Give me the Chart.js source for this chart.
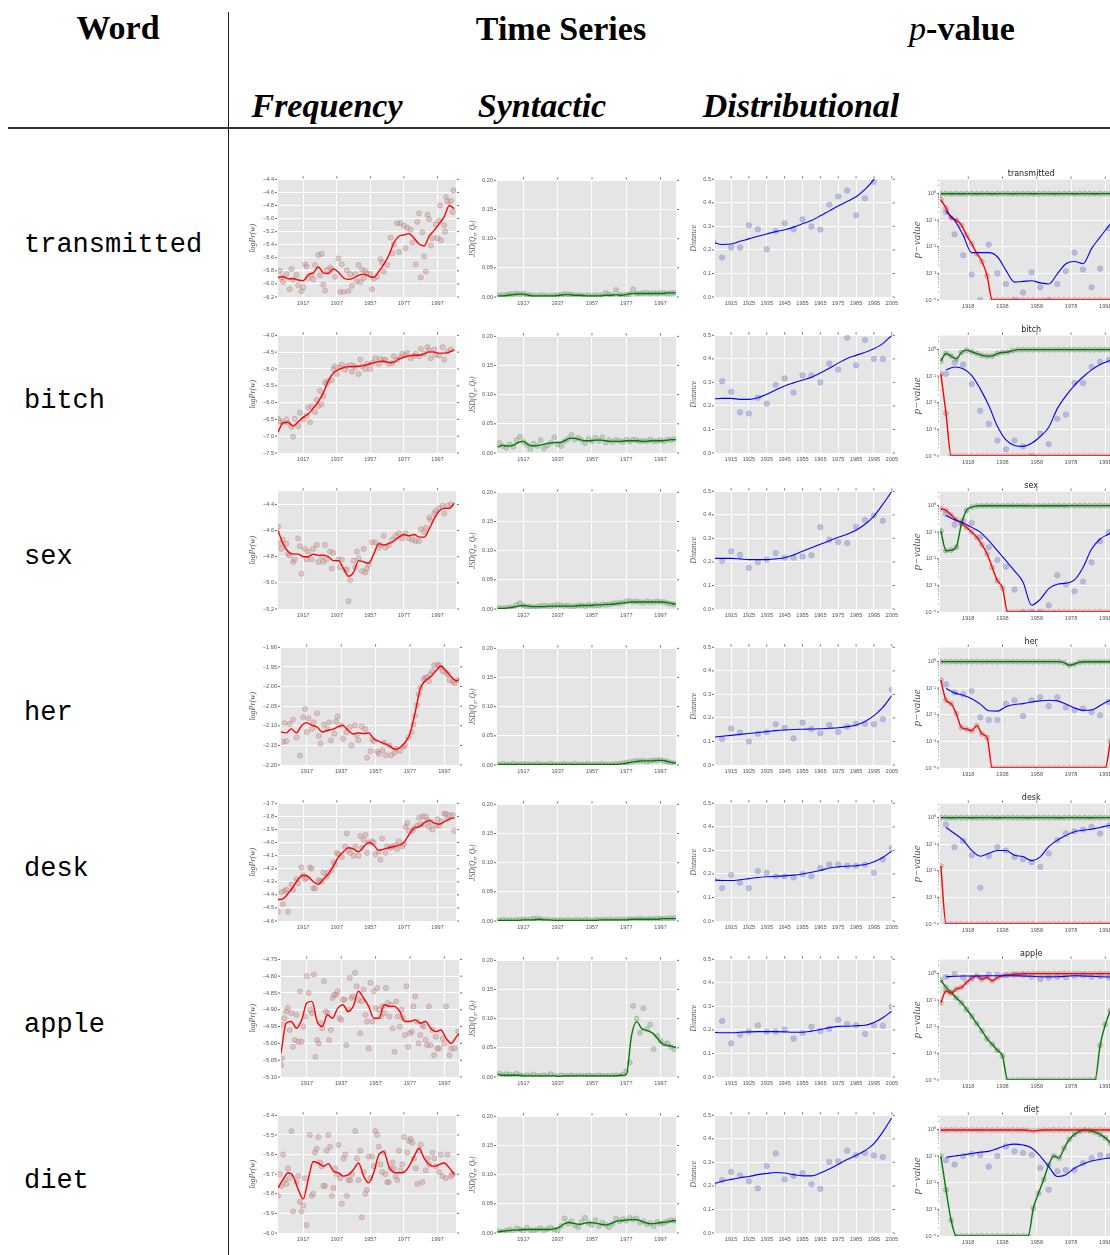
<!DOCTYPE html>
<html>
<head>
<meta charset="utf-8">
<script src="https://cdn.jsdelivr.net/npm/chart.js@4.4.1/dist/chart.umd.min.js"></script>
<style>
  html, body { margin: 0; padding: 0; background: #fff; }
  body { width: 1110px; height: 1255px; position: relative; overflow: hidden; }
  .hd { position: absolute; transform: translate(-50%, -50%); font: bold 34px 'Liberation Serif', serif; white-space: nowrap; color: #000; }
  .hd.it { font-style: italic; }
  .word { position: absolute; left: 24px; transform: translateY(-50%); font: 27px 'Liberation Mono', monospace; color: #000; }
  .rule-h { position: absolute; left: 8px; top: 127px; width: 1102px; height: 2px; background: #333; }
  .rule-v { position: absolute; left: 228px; top: 12px; width: 1px; height: 1243px; background: #222; }
</style>
</head>
<body>
<div class="hd" style="left:118px;top:28px">Word</div>
<div class="hd" style="left:561px;top:29px">Time Series</div>
<div class="hd" style="left:962px;top:29px"><i style="font-weight:normal">p</i>-value</div>
<div class="hd it" style="left:327px;top:106px">Frequency</div>
<div class="hd it" style="left:542px;top:106px">Syntactic</div>
<div class="hd it" style="left:801px;top:106px">Distributional</div>
<div class="rule-h"></div>
<div class="rule-v"></div>

<script>
// ---- shared axes ----
const words = ['transmitted', 'bitch', 'sex', 'her', 'desk', 'apple', 'diet'];

const freqLineYears = [1902,1905,1908,1911,1914,1917,1920,1923,1926,1929,1932,1935,1938,1941,1944,1947,1950,1953,
  1956,1959,1962,1965,1968,1971,1974,1977,1980,1983,1986,1989,1992,1995,1998,2001,2004,2007];
const synPtYears = [1903,1905,1907,1909,1911,1913,1915,1917,1919,1921,1923,1925,1927,1929,1931,1933,1935,1937,1939,
  1941,1943,1945,1947,1949,1951,1953,1955,1957,1959,1961,1963,1965,1967,1969,1971,1973,1975,1977,1979,1981,1983,
  1985,1987,1989,1991,1993,1995,1997,1999,2001,2003,2005];
const distYears = [1905,1910,1915,1920,1925,1930,1935,1940,1945,1950,1955,1960,1965,1970,1975,1980,1985,1990,1995,2000,2005];

const freqXTicks = [1917,1937,1957,1977,1997];
const distXTicks = [1915,1925,1935,1945,1955,1965,1975,1985,1995,2005];
const pXTicks = [1918,1938,1958,1978,1998];
const synYTicks = [0,0.05,0.10,0.15,0.20];
const distYTicks = [0,0.1,0.2,0.3,0.4,0.5];
const pYTicks = [1e-4,1e-3,1e-2,1e-1,1];

// ---- frequency: y ticks, smoothed line, yearly points ----
const transmittedFreqTicks = [-6.2,-6.0,-5.8,-5.6,-5.4,-5.2,-5.0,-4.8,-4.6,-4.4];
const bitchFreqTicks = [-7.5,-7.0,-6.5,-6.0,-5.5,-5.0,-4.5,-4.0];
const sexFreqTicks = [-5.2,-5.0,-4.8,-4.6,-4.4];
const herFreqTicks = [-2.20,-2.15,-2.10,-2.05,-2.00,-1.95,-1.90];
const deskFreqTicks = [-4.6,-4.5,-4.4,-4.3,-4.2,-4.1,-4.0,-3.9,-3.8,-3.7];
const appleFreqTicks = [-5.10,-5.05,-5.00,-4.95,-4.90,-4.85,-4.80,-4.75];
const dietFreqTicks = [-6.0,-5.9,-5.8,-5.7,-5.6,-5.5,-5.4];

const transmittedFreqLine = [-5.90,-5.89,-5.92,-5.92,-5.94,-5.95,-5.86,-5.83,-5.74,-5.83,-5.84,-5.77,-5.82,-5.91,-5.93,
  -5.91,-5.87,-5.85,-5.88,-5.90,-5.81,-5.70,-5.56,-5.37,-5.27,-5.25,-5.23,-5.30,-5.39,-5.42,-5.27,-5.18,-5.08,-4.97,-4.80,-4.85];
const bitchFreqLine = [-6.88,-6.60,-6.59,-6.70,-6.57,-6.44,-6.34,-6.17,-5.97,-5.71,-5.35,-5.12,-5.02,-4.96,-4.93,-4.93,
  -4.92,-4.90,-4.86,-4.81,-4.78,-4.77,-4.81,-4.80,-4.70,-4.65,-4.61,-4.59,-4.59,-4.55,-4.49,-4.50,-4.53,-4.53,-4.50,-4.43];
const sexFreqLine = [-4.60,-4.70,-4.76,-4.78,-4.78,-4.80,-4.80,-4.78,-4.79,-4.79,-4.80,-4.83,-4.83,-4.89,-4.95,-4.92,
  -4.83,-4.84,-4.85,-4.78,-4.70,-4.71,-4.70,-4.68,-4.65,-4.63,-4.64,-4.63,-4.65,-4.65,-4.59,-4.51,-4.45,-4.43,-4.43,-4.39];
const herFreqLine = [-2.116,-2.118,-2.108,-2.118,-2.099,-2.092,-2.099,-2.103,-2.116,-2.112,-2.109,-2.103,-2.099,-2.112,
  -2.121,-2.118,-2.120,-2.118,-2.133,-2.140,-2.145,-2.151,-2.160,-2.156,-2.143,-2.120,-2.066,-2.005,-1.985,-1.975,-1.960,
  -1.948,-1.960,-1.975,-1.985,-1.978];
const deskFreqLine = [-4.436,-4.43,-4.39,-4.34,-4.28,-4.25,-4.26,-4.30,-4.32,-4.28,-4.24,-4.18,-4.11,-4.07,-4.04,-4.05,
  -4.07,-4.03,-4.00,-4.02,-4.06,-4.05,-4.04,-4.03,-4.02,-4.00,-3.94,-3.89,-3.88,-3.85,-3.83,-3.85,-3.86,-3.84,-3.82,-3.81];
const appleFreqLine = [-5.03,-4.94,-4.935,-4.955,-4.93,-4.88,-4.875,-4.935,-4.95,-4.915,-4.925,-4.895,-4.885,-4.905,
  -4.89,-4.845,-4.865,-4.89,-4.925,-4.925,-4.885,-4.89,-4.89,-4.905,-4.935,-4.935,-4.93,-4.94,-4.935,-4.955,-4.965,-4.96,
  -4.985,-5.0,-4.98,-4.965];
const dietFreqLine = [-5.77,-5.727,-5.693,-5.71,-5.777,-5.827,-5.727,-5.635,-5.643,-5.66,-5.646,-5.685,-5.693,-5.71,
  -5.702,-5.676,-5.643,-5.71,-5.744,-5.693,-5.601,-5.585,-5.66,-5.69,-5.693,-5.69,-5.66,-5.61,-5.568,-5.618,-5.651,-5.66,
  -5.651,-5.643,-5.668,-5.702];

const transmittedFreqPts = [[1903,-5.80],[1904,-5.90],[1905,-5.97],[1907,-5.85],[1909,-6.08],[1910,-5.77],[1911,-5.93],
  [1913,-5.86],[1914,-6.02],[1916,-6.11],[1917,-6.05],[1918,-5.70],[1919,-5.73],[1920,-5.91],[1922,-5.86],[1923,-5.93],
  [1924,-5.71],[1926,-5.56],[1927,-5.87],[1928,-5.54],[1929,-6.01],[1930,-6.10],[1931,-5.79],[1933,-5.75],[1934,-5.78],
  [1936,-5.89],[1938,-5.61],[1939,-6.12],[1940,-5.70],[1941,-6.12],[1943,-5.79],[1944,-6.11],[1945,-5.85],[1946,-6.03],
  [1948,-5.85],[1949,-5.96],[1950,-5.71],[1951,-5.97],[1952,-5.78],[1953,-5.91],[1954,-5.80],[1955,-5.84],[1957,-5.85],
  [1958,-6.08],[1959,-5.92],[1961,-5.89],[1963,-5.62],[1964,-5.67],[1965,-5.81],[1967,-5.71],[1969,-5.29],[1970,-5.53],
  [1971,-5.40],[1973,-5.07],[1974,-5.51],[1975,-5.07],[1977,-5.11],[1978,-5.45],[1979,-5.14],[1981,-5.17],[1982,-5.37],
  [1984,-5.70],[1985,-5.05],[1986,-4.92],[1987,-5.90],[1988,-5.21],[1989,-5.58],[1990,-5.81],[1991,-4.94],[1992,-5.01],
  [1993,-5.41],[1994,-5.30],[1996,-5.09],[1997,-5.30],[1998,-5.03],[1998.5,-4.80],[1999,-5.33],[2001,-5.10],[2001.5,-5.20],
  [2002,-4.67],[2003,-4.74],[2005,-4.73],[2006,-4.90],[2006.5,-4.57]];
const bitchFreqPts = [[1902,-6.48],[1903,-6.55],[1905,-6.58],[1907,-6.50],[1908,-6.60],[1910,-6.72],[1911,-7.02],
  [1912,-6.48],[1914,-6.70],[1915,-6.30],[1917,-6.50],[1919,-6.40],[1920,-6.15],[1921,-6.58],[1922,-6.12],[1924,-6.28],
  [1925,-5.92],[1926,-6.10],[1927,-5.65],[1928,-6.05],[1929,-5.80],[1930,-5.40],[1931,-5.45],[1932,-5.35],[1934,-5.33],
  [1935,-5.00],[1936,-4.92],[1937,-5.15],[1939,-4.95],[1940,-4.87],[1942,-5.02],[1943,-4.92],[1945,-4.88],[1946,-5.08],
  [1947,-4.90],[1948,-4.95],[1950,-5.15],[1951,-4.72],[1952,-4.92],[1954,-5.00],[1955,-4.85],[1957,-5.00],[1958,-4.82],
  [1960,-4.68],[1962,-4.85],[1963,-4.70],[1965,-4.75],[1966,-4.72],[1968,-4.85],[1970,-4.82],[1971,-4.62],[1973,-4.72],
  [1975,-4.65],[1976,-4.55],[1978,-4.58],[1979,-4.52],[1981,-4.68],[1983,-4.60],[1984,-4.55],[1986,-4.62],[1987,-4.40],
  [1989,-4.55],[1991,-4.35],[1992,-4.45],[1993,-4.68],[1995,-4.42],[1996,-4.58],[1998,-4.60],[2000,-4.35],[2001,-4.72],
  [2003,-4.48],[2005,-4.42]];
const sexFreqPts = [[1902,-4.57],[1903,-4.70],[1904,-4.74],[1905,-4.67],[1907,-4.70],[1908,-4.78],[1909,-4.79],
  [1911,-4.84],[1912,-4.82],[1914,-4.66],[1915,-4.72],[1916,-4.93],[1918,-4.74],[1919,-4.82],[1920,-4.76],[1922,-4.82],
  [1923,-4.74],[1925,-4.71],[1926,-4.84],[1928,-4.80],[1929,-4.84],[1930,-4.71],[1931,-4.82],[1933,-4.76],[1934,-4.89],
  [1935,-4.77],[1938,-4.82],[1939,-4.88],[1940,-4.82],[1942,-4.90],[1943,-4.90],[1944,-5.14],[1945,-4.98],[1947,-4.83],
  [1948,-4.88],[1949,-4.76],[1950,-4.81],[1952,-4.91],[1953,-4.74],[1954,-4.92],[1955,-4.89],[1956,-4.86],[1958,-4.69],
  [1960,-4.69],[1962,-4.73],[1963,-4.71],[1965,-4.64],[1966,-4.73],[1968,-4.71],[1970,-4.67],[1972,-4.64],[1974,-4.62],
  [1976,-4.66],[1978,-4.62],[1980,-4.66],[1982,-4.67],[1984,-4.68],[1986,-4.68],[1987,-4.59],[1989,-4.61],[1990,-4.58],
  [1992,-4.50],[1993,-4.52],[1995,-4.47],[1996,-4.45],[1998,-4.43],[2000,-4.41],[2001,-4.47],[2003,-4.41],[2005,-4.40]];
const herFreqPts = [[1903,-2.141],[1904,-2.093],[1905,-2.139],[1907,-2.095],[1909,-2.084],[1911,-2.130],[1913,-2.176],
  [1915,-2.078],[1916,-2.057],[1917,-2.116],[1918,-2.081],[1920,-2.108],[1921,-2.091],[1923,-2.068],[1924,-2.126],
  [1925,-2.145],[1927,-2.097],[1929,-2.108],[1930,-2.091],[1931,-2.137],[1933,-2.120],[1934,-2.089],[1935,-2.076],
  [1937,-2.099],[1938,-2.133],[1940,-2.116],[1942,-2.103],[1943,-2.150],[1945,-2.099],[1946,-2.124],[1947,-2.137],
  [1949,-2.102],[1951,-2.108],[1952,-2.181],[1954,-2.165],[1955,-2.135],[1956,-2.139],[1958,-2.166],[1959,-2.171],
  [1961,-2.162],[1962,-2.143],[1963,-2.175],[1965,-2.150],[1966,-2.175],[1968,-2.169],[1969,-2.158],[1971,-2.164],
  [1973,-2.154],[1974,-2.150],[1976,-2.130],[1978,-2.116],[1979,-2.097],[1980,-2.074],[1981,-2.047],[1982,-2.019],
  [1983,-2.003],[1985,-1.982],[1986,-1.977],[1987,-1.976],[1988,-1.986],[1989,-1.969],[1990,-1.961],[1991,-1.946],
  [1993,-1.944],[1994,-1.946],[1995,-1.952],[1996,-1.961],[1998,-1.965],[1999,-1.969],[2000,-1.983],[2002,-1.987],
  [2003,-1.992],[2005,-1.983]];
const deskFreqPts = [[1902,-4.53],[1904,-4.38],[1905,-4.47],[1906,-4.37],[1907,-4.36],[1908,-4.53],[1910,-4.32],
  [1911,-4.36],[1913,-4.28],[1914,-4.31],[1916,-4.19],[1917,-4.25],[1918,-4.28],[1919,-4.27],[1921,-4.19],[1922,-4.20],
  [1923,-4.35],[1924,-4.35],[1926,-4.29],[1927,-4.29],[1928,-4.30],[1929,-4.23],[1931,-4.26],[1932,-4.23],[1934,-4.21],
  [1935,-4.15],[1936,-4.17],[1937,-4.08],[1938,-4.09],[1940,-4.11],[1942,-4.03],[1943,-3.93],[1944,-4.06],[1945,-4.08],
  [1947,-4.10],[1948,-4.03],[1950,-4.10],[1951,-3.95],[1952,-4.04],[1953,-3.98],[1954,-3.94],[1955,-4.08],[1956,-4.00],
  [1958,-3.99],[1959,-4.00],[1960,-4.09],[1962,-4.07],[1963,-4.13],[1964,-3.97],[1966,-4.08],[1967,-4.03],[1969,-4.04],
  [1970,-4.03],[1972,-4.02],[1973,-4.05],[1974,-3.99],[1976,-4.03],[1977,-4.01],[1978,-3.88],[1979,-3.85],[1980,-3.91],
  [1982,-3.91],[1983,-3.89],[1985,-3.87],[1986,-3.81],[1987,-3.86],[1988,-3.80],[1989,-3.86],[1990,-3.80],[1991,-3.83],
  [1992,-3.88],[1993,-3.84],[1994,-3.90],[1996,-3.87],[1997,-3.82],[1998,-3.87],[1999,-3.84],[2001,-3.78],[2002,-3.78],
  [2003,-3.82],[2004,-3.79],[2006,-3.79],[2007,-3.91]];
const appleFreqPts = [[1902,-5.065],[1902.5,-5.045],[1903,-4.945],[1904,-4.925],[1905,-4.905],[1906,-4.895],[1907,-4.96],
  [1908,-4.91],[1909,-5.01],[1910,-4.99],[1911,-4.915],[1912,-4.995],[1913,-4.845],[1914,-4.995],[1915,-4.95],[1916,-4.92],
  [1917,-4.80],[1918,-4.85],[1919,-4.90],[1920,-4.91],[1921,-4.795],[1922,-5.04],[1923,-4.99],[1924,-5.00],[1925,-4.94],
  [1926,-4.955],[1927,-4.815],[1928,-4.905],[1929,-4.91],[1930,-4.99],[1931,-4.96],[1932,-4.865],[1933,-4.855],
  [1934,-4.855],[1935,-4.845],[1936,-4.925],[1937,-4.93],[1938,-4.87],[1939,-4.87],[1940,-5.005],[1941,-4.90],[1942,-4.805],
  [1943,-4.865],[1944,-4.86],[1945,-4.79],[1946,-4.83],[1947,-4.87],[1948,-4.97],[1949,-4.875],[1950,-4.84],[1951,-4.915],
  [1952,-4.935],[1953,-5.015],[1954,-4.82],[1955,-4.935],[1956,-4.845],[1957,-4.895],[1958,-4.835],[1959,-4.90],
  [1960,-4.92],[1961,-4.89],[1962,-4.91],[1963,-4.835],[1964,-4.88],[1965,-4.92],[1966,-4.885],[1967,-4.955],[1968,-5.025],
  [1969,-4.875],[1970,-4.92],[1971,-4.95],[1972,-4.90],[1973,-4.925],[1974,-4.975],[1975,-4.83],[1976,-5.01],[1977,-4.97],
  [1978,-4.965],[1979,-4.89],[1980,-4.86],[1981,-4.935],[1982,-5.00],[1983,-4.975],[1984,-4.945],[1985,-4.95],[1986,-4.99],
  [1987,-5.005],[1988,-4.89],[1989,-5.005],[1990,-4.96],[1991,-5.035],[1992,-4.98],[1993,-5.015],[1994,-5.015],
  [1996,-4.985],[1997,-5.00],[1998,-4.89],[2000,-5.035],[2001,-5.015],[2003,-5.015],[2005,-4.965]];
const dietFreqPts = [[1902,-5.81],[1903,-5.70],[1904,-5.76],[1905,-5.60],[1906,-5.73],[1907,-5.75],[1908,-5.67],
  [1909,-5.72],[1910,-5.48],[1911,-5.89],[1913,-5.74],[1914,-5.71],[1915,-5.84],[1916,-5.89],[1917,-5.86],[1918,-5.72],
  [1919,-5.96],[1921,-5.50],[1922,-5.81],[1923,-5.80],[1924,-5.59],[1925,-5.57],[1926,-5.51],[1927,-5.64],[1928,-5.66],
  [1929,-5.76],[1930,-5.76],[1931,-5.58],[1932,-5.50],[1933,-5.56],[1934,-5.81],[1935,-5.77],[1936,-5.67],[1937,-5.70],
  [1938,-5.55],[1939,-5.72],[1940,-5.85],[1941,-5.62],[1942,-5.60],[1943,-5.81],[1944,-5.73],[1945,-5.73],[1946,-5.70],
  [1948,-5.48],[1949,-5.62],[1950,-5.73],[1951,-5.58],[1952,-5.92],[1953,-5.69],[1954,-5.80],[1955,-5.78],[1956,-5.61],
  [1957,-5.72],[1958,-5.61],[1959,-5.66],[1960,-5.48],[1961,-5.50],[1962,-5.56],[1963,-5.65],[1964,-5.69],[1965,-5.59],
  [1966,-5.70],[1967,-5.74],[1968,-5.74],[1969,-5.67],[1970,-5.64],[1971,-5.67],[1972,-5.71],[1973,-5.73],[1974,-5.58],
  [1975,-5.68],[1976,-5.65],[1977,-5.51],[1979,-5.59],[1980,-5.53],[1981,-5.52],[1982,-5.54],[1983,-5.62],[1984,-5.67],
  [1985,-5.75],[1986,-5.58],[1987,-5.55],[1988,-5.74],[1990,-5.68],[1991,-5.62],[1992,-5.65],[1994,-5.59],[1995,-5.62],
  [1996,-5.66],[1998,-5.69],[1999,-5.60],[2000,-5.71],[2002,-5.72],[2003,-5.60],[2005,-5.71],[2006,-5.70]];

// ---- syntactic: JSD line + points ----
const transmittedSynLine = [0.002,0.002,0.003,0.004,0.005,0.005,0.003,0.002,0.002,0.002,0.002,0.002,0.003,0.004,0.004,
  0.003,0.003,0.002,0.002,0.002,0.002,0.003,0.003,0.004,0.003,0.004,0.006,0.006,0.006,0.006,0.006,0.006,0.006,0.007,0.007,0.007];
const bitchSynLine = [0.010,0.013,0.012,0.013,0.018,0.020,0.014,0.012,0.013,0.015,0.017,0.018,0.018,0.021,0.025,0.025,
  0.023,0.021,0.021,0.022,0.022,0.021,0.020,0.020,0.020,0.021,0.021,0.021,0.020,0.020,0.021,0.021,0.021,0.022,0.023,0.023];
const sexSynLine = [0.001,0.001,0.002,0.003,0.005,0.006,0.005,0.004,0.004,0.004,0.005,0.005,0.005,0.005,0.005,0.005,
  0.006,0.006,0.006,0.007,0.007,0.008,0.008,0.009,0.010,0.011,0.012,0.012,0.012,0.012,0.012,0.012,0.012,0.011,0.009,0.008];
const herSynLine = [0.001,0.001,0.001,0.001,0.001,0.001,0.001,0.001,0.001,0.001,0.001,0.001,0.001,0.001,0.001,0.001,
  0.001,0.001,0.001,0.001,0.001,0.001,0.001,0.001,0.002,0.003,0.005,0.006,0.007,0.007,0.007,0.008,0.008,0.006,0.004,0.003];
const deskSynLine = [0.001,0.001,0.001,0.001,0.001,0.002,0.002,0.002,0.003,0.002,0.002,0.001,0.001,0.001,0.001,0.001,
  0.001,0.001,0.001,0.001,0.002,0.002,0.002,0.002,0.002,0.002,0.003,0.003,0.003,0.003,0.003,0.003,0.004,0.004,0.004,0.005];
const appleSynLine = [0.005,0.003,0.003,0.003,0.003,0.002,0.002,0.002,0.002,0.002,0.002,0.002,0.001,0.002,0.002,0.002,
  0.002,0.002,0.002,0.002,0.002,0.002,0.002,0.002,0.003,0.004,0.070,0.095,0.083,0.080,0.076,0.067,0.057,0.054,0.052,0.050];
const dietSynLine = [0.002,0.003,0.004,0.005,0.005,0.006,0.006,0.006,0.006,0.006,0.006,0.007,0.010,0.016,0.018,0.016,
  0.015,0.017,0.018,0.017,0.015,0.014,0.016,0.020,0.021,0.022,0.023,0.023,0.020,0.017,0.016,0.017,0.018,0.019,0.021,0.021];

const transmittedSynPts = [0.003,0.003,0.004,0.005,0.005,0.006,0.005,0.006,0.004,0.003,0.003,0.002,0.003,0.003,0.002,
  0.002,0.003,0.003,0.004,0.005,0.005,0.004,0.003,0.003,0.003,0.002,0.003,0.002,0.003,0.003,0.003,0.007,0.004,0.003,
  0.012,0.004,0.003,0.004,0.005,0.013,0.006,0.006,0.007,0.007,0.006,0.007,0.006,0.007,0.007,0.006,0.007,0.007];
const bitchSynPts = [0.017,0.012,0.009,0.015,0.011,0.022,0.028,0.019,0.014,0.007,0.016,0.012,0.022,0.008,0.013,0.018,
  0.027,0.015,0.012,0.020,0.024,0.031,0.023,0.026,0.022,0.017,0.024,0.020,0.026,0.021,0.027,0.018,0.022,0.019,0.022,
  0.021,0.019,0.023,0.020,0.023,0.022,0.020,0.021,0.020,0.023,0.020,0.021,0.022,0.020,0.023,0.022,0.024];
const sexSynPts = [0.002,0.001,0.002,0.003,0.003,0.007,0.010,0.006,0.004,0.004,0.003,0.004,0.005,0.006,0.005,0.005,
  0.006,0.007,0.006,0.005,0.006,0.004,0.005,0.006,0.006,0.005,0.007,0.006,0.007,0.006,0.008,0.007,0.008,0.009,0.010,
  0.010,0.011,0.013,0.014,0.012,0.013,0.012,0.011,0.013,0.012,0.012,0.013,0.012,0.012,0.010,0.009,0.008];
const herSynPts = [0.001,0.002,0.001,0.001,0.002,0.001,0.001,0.002,0.001,0.001,0.001,0.002,0.001,0.001,0.001,0.002,
  0.001,0.001,0.001,0.002,0.001,0.001,0.002,0.001,0.001,0.001,0.002,0.001,0.001,0.001,0.002,0.001,0.001,0.001,0.002,
  0.002,0.003,0.004,0.005,0.006,0.007,0.007,0.007,0.006,0.007,0.008,0.008,0.009,0.007,0.006,0.004,0.003];
const deskSynPts = [0.001,0.002,0.001,0.002,0.001,0.002,0.002,0.003,0.002,0.003,0.004,0.004,0.003,0.002,0.002,0.001,
  0.002,0.001,0.002,0.001,0.002,0.001,0.002,0.002,0.001,0.002,0.002,0.001,0.002,0.002,0.002,0.002,0.003,0.002,0.002,
  0.003,0.002,0.003,0.003,0.003,0.003,0.004,0.003,0.003,0.004,0.003,0.004,0.004,0.004,0.004,0.005,0.005];
const appleSynPts = [0.006,0.003,0.005,0.004,0.003,0.006,0.003,0.002,0.003,0.002,0.004,0.002,0.002,0.003,0.002,0.005,
  0.002,0.001,0.003,0.002,0.002,0.003,0.002,0.002,0.002,0.002,0.003,0.002,0.002,0.003,0.002,0.002,0.002,0.002,0.003,
  0.002,0.004,0.010,0.025,0.122,0.100,0.076,0.118,0.082,0.090,0.048,0.070,0.062,0.056,0.058,0.052,0.048];
const dietSynPts = [0.003,0.002,0.004,0.006,0.003,0.008,0.006,0.004,0.009,0.005,0.004,0.006,0.008,0.004,0.007,0.009,
  0.006,0.004,0.012,0.025,0.016,0.020,0.013,0.010,0.019,0.026,0.017,0.014,0.022,0.012,0.018,0.014,0.010,0.016,0.025,
  0.020,0.024,0.021,0.026,0.023,0.025,0.018,0.020,0.015,0.017,0.012,0.019,0.016,0.018,0.020,0.022,0.021];

// ---- distributional: distance line + 5-year points ----
const transmittedDistLine = [0.232,0.223,0.225,0.237,0.247,0.258,0.268,0.278,0.286,0.297,0.311,0.325,0.345,0.366,0.387,0.406,0.426,0.457,0.50,0.56,0.63];
const bitchDistLine = [0.23,0.232,0.232,0.228,0.228,0.235,0.25,0.268,0.285,0.298,0.31,0.322,0.34,0.36,0.382,0.402,0.415,0.428,0.443,0.465,0.50];
const sexDistLine = [0.215,0.215,0.215,0.213,0.21,0.21,0.21,0.213,0.218,0.23,0.245,0.26,0.275,0.29,0.305,0.318,0.335,0.36,0.395,0.445,0.50];
const herDistLine = [0.118,0.122,0.126,0.13,0.134,0.138,0.142,0.146,0.149,0.151,0.152,0.153,0.154,0.156,0.158,0.163,0.17,0.185,0.21,0.245,0.295];
const deskDistLine = [0.175,0.172,0.172,0.175,0.18,0.185,0.188,0.19,0.192,0.195,0.2,0.207,0.215,0.225,0.23,0.233,0.235,0.24,0.252,0.27,0.298];
const appleDistLine = [0.19,0.188,0.188,0.19,0.192,0.193,0.193,0.193,0.192,0.19,0.19,0.195,0.202,0.21,0.215,0.216,0.218,0.22,0.232,0.252,0.28];
const dietDistLine = [0.208,0.22,0.228,0.235,0.24,0.248,0.253,0.257,0.255,0.248,0.243,0.243,0.255,0.272,0.292,0.312,0.33,0.35,0.38,0.43,0.49];

const transmittedDistPts = [0.235,0.168,0.21,0.21,0.305,0.288,0.203,0.28,0.313,0.288,0.33,0.30,0.287,0.393,0.427,0.453,0.347,0.42,0.49,null,null];
const bitchDistPts = [null,0.305,0.26,0.173,0.168,0.235,0.21,0.29,0.317,0.257,0.33,0.33,0.30,0.38,0.355,0.49,0.373,0.48,0.40,0.40,null];
const sexDistPts = [null,0.205,0.245,0.23,0.175,0.20,0.21,0.238,0.218,0.218,0.223,0.228,0.348,0.295,0.285,0.28,0.35,0.378,0.397,0.375,null];
const herDistPts = [null,0.11,0.155,0.138,0.10,0.133,0.14,0.173,0.158,0.113,0.18,0.153,0.135,0.17,0.14,0.163,0.175,0.175,0.173,0.195,0.32];
const deskDistPts = [0.175,0.14,0.195,0.163,0.14,0.212,0.205,0.19,0.19,0.185,0.2,0.19,0.225,0.24,0.24,0.235,0.235,0.24,0.205,0.262,0.31];
const appleDistPts = [null,0.238,0.143,0.18,0.193,0.22,0.193,0.193,0.202,0.163,0.188,0.213,0.195,0.205,0.243,0.225,0.22,0.183,0.22,0.218,0.298];
const dietDistPts = [0.205,0.225,0.26,0.245,0.22,0.19,0.285,0.338,0.228,0.243,0.255,0.207,0.188,0.302,0.305,0.35,0.33,0.34,0.33,0.323,null];

// ---- p-values: frequency (red), syntactic (green) on freqLineYears; distributional (blue) on distYears ----
const transmittedPRed = [0.58,0.28,0.12,0.1,0.065,0.027,0.013,0.0055,0.0028,0.0008,1e-4,1e-4,1e-4,1e-4,1e-4,1e-4,1e-4,1e-4,
  1e-4,1e-4,1e-4,1e-4,1e-4,1e-4,1e-4,1e-4,1e-4,1e-4,1e-4,1e-4,1e-4,1e-4,1e-4,1e-4,1e-4,1e-4];
const transmittedPGreen = [0.97,0.98,0.97,0.98,0.97,0.98,0.98,0.97,0.98,0.98,0.97,0.98,0.98,0.98,0.97,0.98,0.98,0.98,
  0.97,0.98,0.98,0.98,0.97,0.98,0.98,0.98,0.97,0.98,0.98,0.98,0.97,0.98,0.98,0.98,0.98,0.98];
const transmittedPBlue = [0.21,0.1,0.027,0.006,0.006,0.006,0.0042,0.0013,4.7e-4,5e-4,5.3e-4,4.4e-4,4e-4,9.6e-4,2.3e-3,2.8e-3,2.3e-3,8.5e-3,0.023,0.06,0.15];
const transmittedPBluePts = [0.2,0.029,0.0048,9e-4,1e-4,0.012,1e-3,4e-4,1e-4,1.9e-4,1.1e-3,3e-4,1e-4,4e-4,1.2e-3,6e-3,1.4e-3,3e-4,1.5e-3,0.05,0.1];

const bitchPRed = [0.12,0.004,1e-4,1e-4,1e-4,1e-4,1e-4,1e-4,1e-4,1e-4,1e-4,1e-4,1e-4,1e-4,1e-4,1e-4,1e-4,1e-4,1e-4,1e-4,
  1e-4,1e-4,1e-4,1e-4,1e-4,1e-4,1e-4,1e-4,1e-4,1e-4,1e-4,1e-4,1e-4,1e-4,1e-4,1e-4];
const bitchPGreen = [0.37,0.7,0.56,0.44,0.77,0.94,0.82,0.7,0.6,0.56,0.57,0.7,0.77,0.8,0.9,0.98,0.98,0.98,0.98,0.98,0.98,
  0.98,0.98,0.98,0.98,0.98,0.98,0.98,0.98,0.98,0.98,0.98,0.98,0.98,0.98,0.98];
const bitchPBlue = [0.17,0.22,0.19,0.107,0.033,0.0078,0.0013,4e-4,2.5e-4,2.3e-4,3e-4,5.4e-4,1.2e-3,6e-3,0.018,0.045,0.092,0.17,0.27,0.37,0.45];
const bitchPBluePts = [0.12,0.32,0.27,0.05,0.005,0.0016,3.8e-4,1.8e-4,3.8e-4,2.3e-4,1e-4,7e-4,2.8e-4,2.5e-3,3.6e-3,0.055,0.055,0.22,0.34,0.4,0.5];

const sexPRed = [0.75,0.65,0.44,0.29,0.22,0.15,0.1,0.064,0.034,0.015,0.0047,0.0015,8e-4,1e-4,1e-4,1e-4,1e-4,1e-4,1e-4,1e-4,
  1e-4,1e-4,1e-4,1e-4,1e-4,1e-4,1e-4,1e-4,1e-4,1e-4,1e-4,1e-4,1e-4,1e-4,1e-4,1e-4];
const sexPGreen = [0.11,0.02,0.021,0.027,0.2,0.65,0.87,0.95,0.97,0.97,0.97,0.97,0.97,0.97,0.97,0.97,0.97,0.97,0.96,0.97,
  0.97,0.97,0.97,0.97,0.97,0.98,0.98,0.98,0.98,0.98,0.98,0.98,0.98,0.98,0.98,0.98];
const sexPBlue = [0.42,0.29,0.22,0.15,0.1,0.048,0.02,0.0084,0.0035,1.3e-3,1.8e-4,3e-4,7.5e-4,1.1e-3,1.2e-3,1.6e-3,4.7e-3,0.023,0.055,0.085,0.15];
const sexPBluePts = [0.48,0.19,0.27,0.22,0.064,0.027,0.009,0.005,7e-4,1e-4,1e-4,1e-4,1.8e-4,2.4e-3,1.1e-3,6e-4,1.4e-3,7.3e-3,0.045,0.1,0.2];

const herPRed = [0.2,0.035,0.026,0.011,0.0033,0.0029,0.0025,0.0039,0.0019,0.0014,1e-4,1e-4,1e-4,1e-4,1e-4,1e-4,1e-4,1e-4,
  1e-4,1e-4,1e-4,1e-4,1e-4,1e-4,1e-4,1e-4,1e-4,1e-4,1e-4,1e-4,1e-4,1e-4,1e-4,1e-3,0.01,0.05];
const herPGreen = [0.98,0.98,0.98,0.98,0.98,0.98,0.98,0.98,0.98,0.98,0.98,0.98,0.98,0.98,0.98,0.98,0.98,0.98,0.98,0.98,
  0.98,0.98,0.98,0.98,0.9,0.72,0.8,0.93,0.97,0.97,0.97,0.97,0.97,0.97,0.97,0.97];
const herPBlue = [0.096,0.066,0.054,0.04,0.025,0.014,0.0136,0.02,0.024,0.026,0.03,0.033,0.035,0.033,0.025,0.018,0.0145,0.015,0.022,0.033,0.04];
const herPBluePts = [0.137,0.07,0.058,0.078,0.008,0.0063,0.0063,0.026,0.035,0.009,0.035,0.045,0.021,0.045,0.019,0.015,0.017,0.0125,0.0096,0.03,0.04];

const deskPRed = [0.015,1e-4,1e-4,1e-4,1e-4,1e-4,1e-4,1e-4,1e-4,1e-4,1e-4,1e-4,1e-4,1e-4,1e-4,1e-4,1e-4,1e-4,1e-4,1e-4,
  1e-4,1e-4,1e-4,1e-4,1e-4,1e-4,1e-4,1e-4,1e-4,1e-4,1e-4,1e-4,1e-4,1e-4,1e-4,1e-4];
const deskPGreen = [0.98,0.98,0.97,0.98,0.98,0.98,0.97,0.98,0.98,0.98,0.98,0.97,0.98,0.98,0.98,0.98,0.98,0.97,0.98,0.98,
  0.98,0.98,0.98,0.97,0.98,0.98,0.98,0.98,0.98,0.97,0.98,0.98,0.98,0.98,0.98,0.98];
const deskPBlue = [0.42,0.25,0.14,0.058,0.035,0.045,0.057,0.057,0.038,0.034,0.024,0.033,0.08,0.14,0.21,0.29,0.33,0.36,0.42,0.5,0.55];
const deskPBluePts = [0.54,0.078,0.13,0.038,0.0023,0.036,0.078,0.057,0.033,0.027,0.021,0.014,0.044,0.14,0.25,0.3,0.35,0.44,0.25,0.5,0.55];

const applePRed = [0.08,0.22,0.18,0.26,0.3,0.46,0.67,0.82,0.61,0.7,0.53,0.7,0.82,0.89,0.92,0.95,0.97,0.98,0.98,0.98,
  0.98,0.98,0.98,0.98,0.98,0.98,0.98,0.98,0.98,0.98,0.98,0.98,0.98,0.98,0.98,0.98];
const applePGreen = [0.56,0.3,0.2,0.12,0.08,0.045,0.025,0.013,0.007,0.0035,0.0022,0.0013,8e-4,1e-4,1e-4,1e-4,1e-4,1e-4,
  1e-4,1e-4,1e-4,1e-4,1e-4,1e-4,1e-4,1e-4,1e-4,1e-4,1e-4,1e-4,1e-4,2e-3,0.012,0.04,0.1,0.2];
const applePBlue = [0.75,0.78,0.8,0.8,0.8,0.82,0.82,0.82,0.82,0.8,0.78,0.75,0.74,0.75,0.78,0.82,0.8,0.78,0.75,0.73,0.72];
const applePBluePts = [0.75,0.95,0.7,0.65,0.7,0.9,0.88,0.85,0.9,0.88,0.75,0.62,0.7,0.75,0.72,0.82,0.85,0.75,0.78,0.7,0.7];

const dietPRed = [0.95,0.95,0.96,0.95,0.95,0.96,0.95,0.95,0.95,0.96,0.95,0.95,0.95,0.95,0.96,0.95,0.95,0.92,0.88,0.92,
  0.95,0.95,0.96,0.95,0.95,0.95,0.96,0.95,0.95,0.95,0.95,0.96,0.95,0.95,0.95,0.95];
const dietPGreen = [0.1,0.0054,3.9e-4,1e-4,1e-4,1e-4,1e-4,1e-4,1e-4,1e-4,1e-4,1e-4,1e-4,1e-4,1e-4,1e-4,1e-4,1e-4,
  1.1e-3,4e-3,0.013,0.047,0.1,0.085,0.2,0.42,0.65,0.84,0.94,0.89,0.79,0.65,0.48,0.31,0.2,0.15];
const dietPBlue = [0.09,0.1,0.11,0.125,0.14,0.15,0.19,0.25,0.28,0.26,0.2,0.1,0.04,0.017,0.02,0.035,0.05,0.065,0.075,0.085,0.09];
const dietPBluePts = [0.07,0.048,0.1,0.12,0.11,0.04,0.1,0.23,0.15,0.13,0.11,0.036,0.0054,0.027,0.03,0.03,0.055,0.085,0.11,0.1,0.1];

// ---- per-row table built from the arrays above ----
const rows = [
  {word: 'transmitted', fTicks: transmittedFreqTicks, fDec: 1, fLine: transmittedFreqLine, fPts: transmittedFreqPts,
   sLine: transmittedSynLine, sPts: transmittedSynPts, dLine: transmittedDistLine, dPts: transmittedDistPts,
   pRed: transmittedPRed, pGreen: transmittedPGreen, pBlue: transmittedPBlue, pBluePts: transmittedPBluePts},
  {word: 'bitch', fTicks: bitchFreqTicks, fDec: 1, fLine: bitchFreqLine, fPts: bitchFreqPts,
   sLine: bitchSynLine, sPts: bitchSynPts, dLine: bitchDistLine, dPts: bitchDistPts,
   pRed: bitchPRed, pGreen: bitchPGreen, pBlue: bitchPBlue, pBluePts: bitchPBluePts},
  {word: 'sex', fTicks: sexFreqTicks, fDec: 1, fMax: -4.3, fLine: sexFreqLine, fPts: sexFreqPts,
   sLine: sexSynLine, sPts: sexSynPts, dLine: sexDistLine, dPts: sexDistPts,
   pRed: sexPRed, pGreen: sexPGreen, pBlue: sexPBlue, pBluePts: sexPBluePts},
  {word: 'her', fTicks: herFreqTicks, fDec: 2, fLine: herFreqLine, fPts: herFreqPts,
   sLine: herSynLine, sPts: herSynPts, dLine: herDistLine, dPts: herDistPts,
   pRed: herPRed, pGreen: herPGreen, pBlue: herPBlue, pBluePts: herPBluePts},
  {word: 'desk', fTicks: deskFreqTicks, fDec: 1, fLine: deskFreqLine, fPts: deskFreqPts,
   sLine: deskSynLine, sPts: deskSynPts, dLine: deskDistLine, dPts: deskDistPts,
   pRed: deskPRed, pGreen: deskPGreen, pBlue: deskPBlue, pBluePts: deskPBluePts},
  {word: 'apple', fTicks: appleFreqTicks, fDec: 2, fLine: appleFreqLine, fPts: appleFreqPts,
   sLine: appleSynLine, sPts: appleSynPts, dLine: appleDistLine, dPts: appleDistPts,
   pRed: applePRed, pGreen: applePGreen, pBlue: applePBlue, pBluePts: applePBluePts},
  {word: 'diet', fTicks: dietFreqTicks, fDec: 1, fLine: dietFreqLine, fPts: dietFreqPts,
   sLine: dietSynLine, sPts: dietSynPts, dLine: dietDistLine, dPts: dietDistPts,
   pRed: dietPRed, pGreen: dietPGreen, pBlue: dietPBlue, pBluePts: dietPBluePts},
];

// ---- layout of the four panel columns ----
const ROW_STEP = 156;
const FREQ = {left: 244, top: 172, yW: 34, plotW: 178, padR: 6, padT: 5, plotH: 120, xH: 14, titleH: 0};
const SYN  = {left: 465, top: 172.7, yW: 32, plotW: 179, padR: 6, padT: 5, plotH: 119, xH: 14, titleH: 0};
const DIST = {left: 686, top: 172, yW: 29, plotW: 178, padR: 8, padT: 5, plotH: 120, xH: 14, titleH: 0};
const PVAL = {left: 910, top: 165.4, yW: 30, plotW: 183, padR: 4, padT: 0, plotH: 120, xH: 14, titleH: 14.6};

const TICK_FONT = {family: "'Liberation Sans', sans-serif", size: 5.6};
const TICK_COLOR = '#555';
const minus = s => s.replace('-', '\u2212');
const SUP = {'-': '\u207B', '0': '\u2070', '1': '\u00B9', '2': '\u00B2', '3': '\u00B3', '4': '\u2074'};
const pow10 = v => '10' + String(Math.round(Math.log10(v))).split('').map(c => SUP[c]).join('');

const toXY = (xs, ys) => xs.map((x, i) => ({x: x, y: ys[i]})).filter(p => p.y != null);
const fromPairs = arr => arr.map(p => ({x: p[0], y: p[1]}));

// grey panel + small outside tick marks (like the matplotlib ggplot style)
const panelStyle = {
  id: 'panelStyle',
  beforeDraw(chart) {
    const {ctx, chartArea: a} = chart;
    ctx.save();
    ctx.fillStyle = '#e5e5e5';
    ctx.fillRect(a.left, a.top, a.right - a.left, a.bottom - a.top);
    ctx.restore();
  },
  afterDraw(chart) {
    const {ctx, chartArea: a} = chart;
    const x = chart.scales.x, y = chart.scales.y;
    ctx.save();
    ctx.strokeStyle = '#444';
    ctx.lineWidth = 0.8;
    ctx.beginPath();
    x.ticks.forEach(t => {
      const px = x.getPixelForValue(t.value);
      ctx.moveTo(px, a.top - 3); ctx.lineTo(px, a.top - 1);
    });
    y.ticks.forEach(t => {
      const py = y.getPixelForValue(t.value);
      ctx.moveTo(a.left - 3, py); ctx.lineTo(a.left - 1, py);
      ctx.moveTo(a.right + 1, py); ctx.lineTo(a.right + 3, py);
    });
    ctx.stroke();
    if (y.type === 'logarithmic') {
      ctx.beginPath();
      ctx.lineWidth = 0.6;
      for (let d = -4; d <= 0; d++) {
        for (let m = 2; m <= 9; m++) {
          const v = m * Math.pow(10, d);
          if (v > y.max) continue;
          const py = y.getPixelForValue(v);
          ctx.moveTo(a.left - 2, py); ctx.lineTo(a.left - 1, py);
        }
      }
      ctx.stroke();
    }
    ctx.restore();
  }
};

function xScale(min, max, ticks, h) {
  return {
    type: 'linear', position: 'bottom', min: min, max: max,
    afterBuildTicks: s => { s.ticks = ticks.map(v => ({value: v})); },
    afterFit: s => { s.height = h; },
    grid: {color: '#ffffff', lineWidth: 1, drawTicks: false},
    border: {display: false},
    ticks: {font: TICK_FONT, color: TICK_COLOR, padding: 3, autoSkip: false, maxRotation: 0, callback: v => String(v)}
  };
}

function yScale(type, min, max, ticks, w, fmt, title, titleSize, titlePad) {
  return {
    type: type, position: 'left', min: min, max: max,
    afterBuildTicks: s => { s.ticks = ticks.map(v => ({value: v})); },
    afterFit: s => { s.width = w; },
    grid: {color: '#ffffff', lineWidth: 1, drawTicks: false},
    border: {display: false},
    ticks: {font: TICK_FONT, color: TICK_COLOR, padding: 4, autoSkip: false, callback: v => fmt(v)},
    title: {display: true, text: title, color: '#555', padding: {top: titlePad, bottom: 0},
            font: {family: "'Liberation Serif', 'DejaVu Serif', serif", style: 'italic', size: titleSize}}
  };
}

function lineSet(data, color, width, order) {
  return {data: data, showLine: true, borderColor: color, borderWidth: width, pointRadius: 0,
          cubicInterpolationMode: 'monotone', order: order};
}
function dotSet(data, fill, edge, r, order) {
  return {data: data, showLine: false, pointRadius: r, pointBackgroundColor: fill,
          pointBorderColor: edge, pointBorderWidth: 0.6, order: order};
}

function placeChart(col, row, extraW, datasets, scales, titleText) {
  const w = Math.round(col.yW + extraW + col.plotW + col.padR);
  const h = Math.round(col.padT + col.titleH + col.plotH + col.xH);
  const box = document.createElement('div');
  box.style.cssText = 'position:absolute;left:' + col.left + 'px;top:' + (col.top + row * ROW_STEP) +
    'px;width:' + w + 'px;height:' + h + 'px';
  const cv = document.createElement('canvas');
  cv.width = w; cv.height = h;
  cv.style.width = w + 'px'; cv.style.height = h + 'px';
  box.appendChild(cv);
  document.body.appendChild(box);
  return new Chart(cv, {
    type: 'scatter',
    data: {datasets: datasets},
    options: {
      responsive: false, animation: false, devicePixelRatio: 1,
      layout: {padding: {top: col.padT, right: col.padR, left: 0, bottom: 0}},
      plugins: {
        legend: {display: false}, tooltip: {enabled: false},
        title: titleText ? {display: true, text: titleText, color: '#222', fullSize: false, padding: {top: 4, bottom: 1},
                            font: {family: "'DejaVu Sans', sans-serif", size: 8, weight: 'normal'}}
                         : {display: false}
      },
      scales: scales
    },
    plugins: [panelStyle]
  });
}

rows.forEach((r, i) => {
  const label = document.createElement('div');
  label.className = 'word';
  label.style.top = (245 + i * ROW_STEP) + 'px';
  label.textContent = r.word;
  document.body.appendChild(label);

  // frequency
  const wide = r.fDec === 2 ? 3 : 0;
  const fMin = r.fTicks[0];
  const fMax = r.fMax !== undefined ? r.fMax : r.fTicks[r.fTicks.length - 1];
  placeChart(FREQ, i, wide, [
    lineSet(toXY(freqLineYears, r.fLine), '#ff0000', 1.4, 0),
    dotSet(fromPairs(r.fPts), 'rgba(205,150,150,0.45)', 'rgba(150,100,100,0.45)', 2.6, 1)
  ], {
    x: xScale(1902, wide ? 2005.5 : 2008, freqXTicks, FREQ.xH),
    y: yScale('linear', fMin, fMax, r.fTicks, FREQ.yW + wide, v => minus(v.toFixed(r.fDec)), 'logPr(w)', 8, 4)
  });

  // syntactic
  placeChart(SYN, i, 0, [
    lineSet(toXY(freqLineYears, r.sLine), '#007a00', 1.4, 0),
    dotSet(toXY(synPtYears, r.sPts), 'rgba(140,170,140,0.45)', 'rgba(100,130,100,0.4)', 2.6, 1)
  ], {
    x: xScale(1901.6, 2006, freqXTicks, SYN.xH),
    y: yScale('linear', 0, 0.2, synYTicks, SYN.yW, v => v.toFixed(2), 'JSD(Q\u2080, Q\u209C)', 7.5, 4)
  });

  // distributional
  placeChart(DIST, i, 0, [
    lineSet(toXY(distYears, r.dLine), '#0000ff', 1.1, 0),
    dotSet(toXY(distYears, r.dPts), 'rgba(150,150,210,0.55)', 'rgba(120,120,180,0.4)', 2.8, 1)
  ], {
    x: xScale(1906, 2005, distXTicks, DIST.xH),
    y: yScale('linear', 0, 0.5, distYTicks, DIST.yW, v => v.toFixed(1), 'Distance', 7.5, 4)
  });

  // p-value
  placeChart(PVAL, i, 0, [
    dotSet(toXY(freqLineYears, r.pGreen), 'rgba(140,160,140,0.5)', 'rgba(100,120,100,0.4)', 2.6, 6),
    dotSet(toXY(freqLineYears, r.pRed), 'rgba(190,150,150,0.5)', 'rgba(150,110,110,0.4)', 2.6, 5),
    dotSet(toXY(distYears, r.pBluePts), 'rgba(150,150,210,0.55)', 'rgba(120,120,180,0.4)', 2.8, 4),
    lineSet(toXY(freqLineYears, r.pGreen), '#007a00', 1.4, 2),
    lineSet(toXY(freqLineYears, r.pRed), '#ff0000', 1.4, 1),
    lineSet(toXY(distYears, r.pBlue), '#0000ff', 1.1, 0)
  ], {
    x: xScale(1901.5, 2008, pXTicks, PVAL.xH),
    y: yScale('logarithmic', 1e-4, 3.3, pYTicks, PVAL.yW, pow10, 'p\u2212value', 11, 1)
  }, r.word);
});
</script>
</body>
</html>
